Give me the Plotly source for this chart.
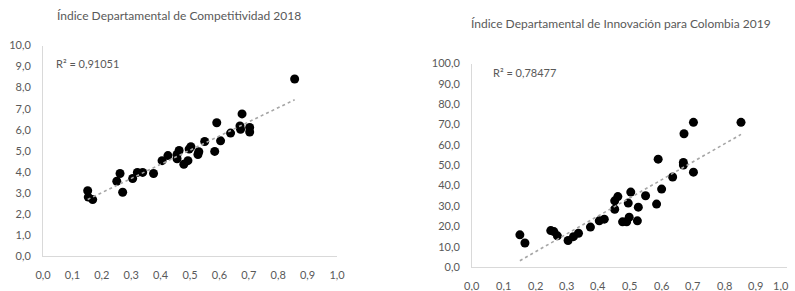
import numpy as np
import plotly.graph_objects as go

# ---- Data: Índice Departamental de Competitividad 2018 ----
comp_x = [0.152, 0.154, 0.169, 0.251, 0.262, 0.271, 0.305, 0.321, 0.339, 0.376,
          0.405, 0.425, 0.456, 0.456, 0.463, 0.479, 0.493, 0.497, 0.503, 0.527,
          0.530, 0.550, 0.584, 0.604, 0.591, 0.638, 0.677, 0.670, 0.672, 0.703,
          0.703, 0.856]
comp_y = [3.10, 2.80, 2.68, 3.55, 3.92, 3.03, 3.68, 3.97, 3.97, 3.92,
          4.53, 4.77, 4.62, 4.82, 5.01, 4.36, 4.53, 5.08, 5.19, 4.82,
          4.95, 5.44, 4.97, 5.47, 6.33, 5.84, 6.75, 6.18, 6.02, 6.11,
          5.89, 8.41]
comp_r2 = "0,91051"

# ---- Data: Índice Departamental de Innovación para Colombia 2019 ----
inno_x = [0.152, 0.168, 0.250, 0.260, 0.271, 0.305, 0.322, 0.338, 0.376, 0.404,
          0.420, 0.453, 0.453, 0.463, 0.478, 0.491, 0.496, 0.499, 0.504, 0.525,
          0.528, 0.551, 0.586, 0.591, 0.602, 0.637, 0.671, 0.671, 0.673, 0.703,
          0.703, 0.854]
inno_y = [15.8, 11.8, 17.9, 17.4, 15.3, 13.0, 14.9, 16.6, 19.6, 22.7,
          23.5, 28.4, 32.5, 34.6, 22.2, 22.2, 31.4, 24.5, 36.8, 22.7,
          29.4, 35.0, 30.9, 53.0, 38.3, 44.2, 51.4, 50.1, 65.5, 46.6,
          71.1, 71.1]
inno_r2 = "0,78477"

titles = ["Índice Departamental de Competitividad 2018",
          "Índice Departamental de Innovación para Colombia 2019"]
x_ticks = [i / 10 for i in range(11)]
x_tick_labels = [("%.1f" % v).replace(".", ",") for v in x_ticks]

FONT = "Lato"
TXT = "#595959"
AX = "#d9d9d9"
W, H = 795, 291

fig = go.Figure()

def add_panel(xs, ys, xa, ya):
    xs = np.array(xs); ys = np.array(ys)
    fig.add_trace(go.Scatter(x=xs, y=ys, mode="markers", xaxis=xa, yaxis=ya,
                             marker=dict(color="black", size=9), showlegend=False,
                             hoverinfo="skip"))
    m, b = np.polyfit(xs, ys, 1)
    tx = np.array([xs.min(), xs.max()])
    fig.add_trace(go.Scatter(x=tx, y=m * tx + b, mode="lines", xaxis=xa, yaxis=ya,
                             line=dict(color="#a6a6a6", width=1.6, dash="dot"),
                             showlegend=False, hoverinfo="skip"))

add_panel(comp_x, comp_y, "x", "y")
add_panel(inno_x, inno_y, "x2", "y2")

def px(v):
    return v / W

def py(v):
    return (H - v) / H

axis_common = dict(showgrid=False, zeroline=False, showline=True, linecolor=AX,
                   linewidth=1, ticks="", tickfont=dict(family=FONT, size=11, color=TXT),
                   tickformat=".1f", fixedrange=True, automargin=False,
                   ticklabeloverflow="allow")

fig.update_layout(
    width=W, height=H, margin=dict(l=0, r=0, t=0, b=0, autoexpand=False),
    paper_bgcolor="white", plot_bgcolor="white", separators=",.",
    xaxis=dict(domain=[px(43), px(337)], range=[0, 1], tickvals=x_ticks,
               anchor="y", ticklabelstandoff=9, **axis_common),
    yaxis=dict(domain=[py(256), py(45.5)], range=[0, 10], tickvals=list(range(0, 11)),
               anchor="x", ticklabelstandoff=9, **axis_common),
    xaxis2=dict(domain=[px(472), px(787)], range=[0, 1], tickvals=x_ticks,
                anchor="y2", showticklabels=False, **axis_common),
    yaxis2=dict(domain=[py(267), py(63.5)], range=[0, 100], tickvals=list(range(0, 101, 10)),
                anchor="x2", ticklabelstandoff=9, **axis_common),
)

ann = [
    dict(text=titles[0], x=px(179), y=py(15), xref="paper", yref="paper",
         xanchor="center", yanchor="middle", showarrow=False,
         font=dict(family=FONT, size=12, color=TXT)),
    dict(text=titles[1], x=px(621), y=py(23), xref="paper", yref="paper",
         xanchor="center", yanchor="middle", showarrow=False,
         font=dict(family=FONT, size=12, color=TXT)),
    dict(text="R² = " + comp_r2, x=px(54), y=py(63), xref="paper", yref="paper",
         xanchor="left", yanchor="middle", showarrow=False,
         font=dict(family=FONT, size=11, color=TXT)),
    dict(text="R² = " + inno_r2, x=px(491), y=py(72), xref="paper", yref="paper",
         xanchor="left", yanchor="middle", showarrow=False,
         font=dict(family=FONT, size=11, color=TXT)),
]
# Right-panel x tick labels placed through the x2 scale;
# the last one is right-anchored so it stays inside the visible page.
for i, (v, lab) in enumerate(zip(x_ticks, x_tick_labels)):
    last = i == len(x_ticks) - 1
    ann.append(dict(text=lab, x=v, xref="x2", y=py(285.5), yref="paper",
                    xanchor="right" if last else "center",
                    xshift=4 if last else 0,
                    yanchor="middle", showarrow=False,
                    font=dict(family=FONT, size=11, color=TXT)))
fig.update_layout(annotations=ann)

post = """
document.documentElement.style.overflow='hidden';
document.documentElement.style.margin='0';
document.body.style.margin='0';
document.body.style.overflow='hidden';
"""

fig.write_html("out.html", config={"displayModeBar": False, "staticPlot": True},
               post_script=post)
